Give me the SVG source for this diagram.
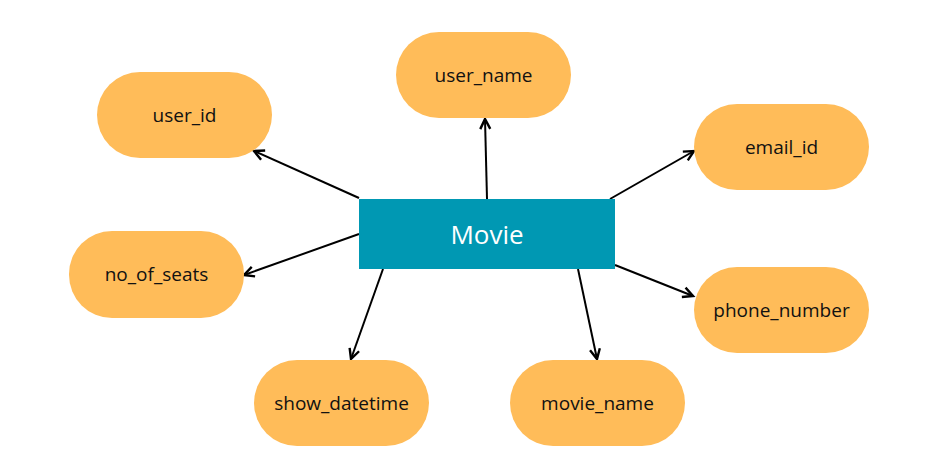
<svg xmlns="http://www.w3.org/2000/svg" width="943" height="475" viewBox="0 0 943 475">
<style>
.pill{fill:#FFBC59}
.lbl{font-family:"Open Sans","Liberation Sans",sans-serif;font-size:19px;fill:#111;text-anchor:middle;dominant-baseline:central}
.edge{stroke:#000;stroke-width:2;fill:none;marker-end:url(#ah)}
</style>
<defs>
<marker id="ah" markerUnits="userSpaceOnUse" markerWidth="14" markerHeight="14" refX="11" refY="6" orient="auto" viewBox="0 0 14 12">
<path d="M1,1 L11,6 L1,11" fill="none" stroke="#000" stroke-width="2.4"/>
</marker>
</defs>
<rect width="943" height="475" fill="#fff"/>
<g id="connectors">
<line class="edge" x1="359" y1="198" x2="254" y2="151"/>
<line class="edge" x1="487" y1="199" x2="485" y2="119"/>
<line class="edge" x1="610" y1="199" x2="694" y2="151"/>
<line class="edge" x1="359" y1="234" x2="244" y2="275"/>
<line class="edge" x1="615" y1="265" x2="693" y2="296"/>
<line class="edge" x1="383" y1="269" x2="351" y2="359"/>
<line class="edge" x1="578" y1="269" x2="597" y2="359"/>
</g>
<g id="movie">
<rect x="359" y="199" width="256" height="70" fill="#0098B3"/>
<text x="487" y="234" font-family="'Open Sans','Liberation Sans',sans-serif" font-size="26" fill="#fff" text-anchor="middle" dominant-baseline="central">Movie</text>
</g>
<g id="user_id"><rect class="pill" x="97" y="72" width="175" height="86" rx="43"/><text class="lbl" x="184.5" y="115">user_id</text></g>
<g id="user_name"><rect class="pill" x="396" y="32" width="175" height="86" rx="43"/><text class="lbl" x="483.5" y="75">user_name</text></g>
<g id="email_id"><rect class="pill" x="694" y="104" width="175" height="86" rx="43"/><text class="lbl" x="781.5" y="147">email_id</text></g>
<g id="no_of_seats"><rect class="pill" x="69" y="231" width="175" height="87" rx="43"/><text class="lbl" x="156.5" y="274">no_of_seats</text></g>
<g id="phone_number"><rect class="pill" x="694" y="267" width="175" height="86" rx="43"/><text class="lbl" x="781.5" y="310">phone_number</text></g>
<g id="show_datetime"><rect class="pill" x="254" y="360" width="175" height="86" rx="43"/><text class="lbl" x="341.5" y="403">show_datetime</text></g>
<g id="movie_name"><rect class="pill" x="510" y="360" width="175" height="86" rx="43"/><text class="lbl" x="597.5" y="403">movie_name</text></g>
</svg>
